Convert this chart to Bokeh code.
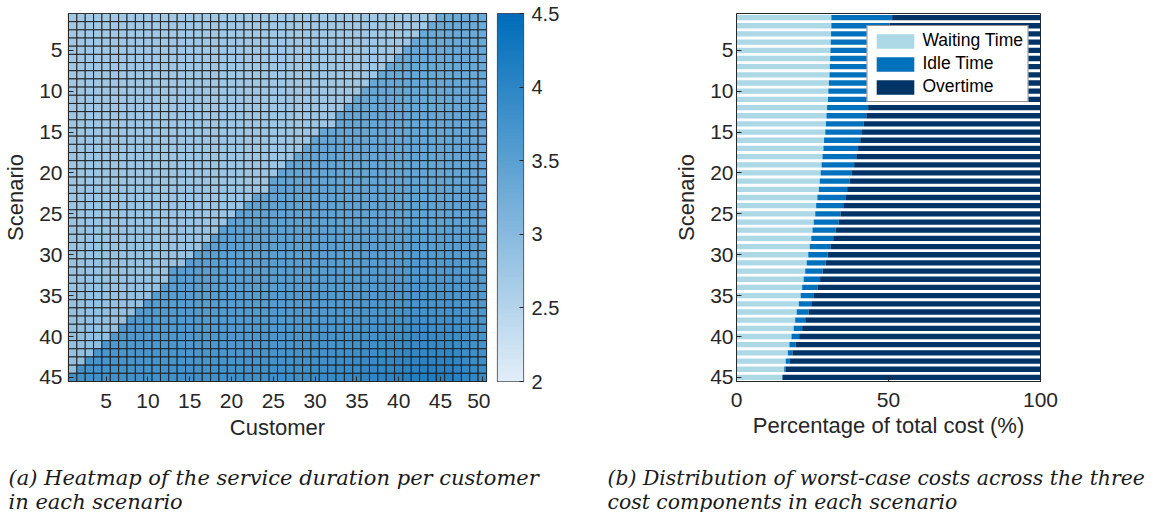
import numpy as np
from bokeh.plotting import figure
from bokeh.layouts import row, column
from bokeh.models import ColumnDataSource, FixedTicker, Range1d, Legend, LegendItem, LinearColorMapper
from bokeh.transform import linear_cmap
from bokeh.core.properties import value
from bokeh.embed import file_html
from bokeh.resources import INLINE

FONT = "Liberation Sans"
AX = "#262626"

# ---------------- data ----------------
customers = list(range(1, 51))
scenarios = list(range(1, 46))
heat_x_ticks = [5, 10, 15, 20, 25, 30, 35, 40, 45, 50]
scen_ticks = [5, 10, 15, 20, 25, 30, 35, 40, 45]
cbar_ticks = [2, 2.5, 3, 3.5, 4, 4.5]
pct_ticks = [0, 50, 100]

# heatmap: first customer column of the darker block in each scenario
dark_start = [45, 44, 43, 42, 41, 40, 39, 38, 37, 36, 35, 34, 33, 33, 31, 30, 29, 28, 27, 26,
              25, 25, 23, 22, 21, 20, 19, 18, 17, 16, 15, 13, 13, 12, 11, 10, 9, 8, 7, 6,
              5, 4, 3, 2, 1]
# service duration of the lighter block, per scenario
light_level = [2.72, 2.72, 2.72, 2.73, 2.73, 2.73, 2.74, 2.74, 2.74, 2.75, 2.75, 2.75, 2.76, 2.76, 2.76,
               2.77, 2.77, 2.77, 2.78, 2.78, 2.78, 2.79, 2.79, 2.79, 2.80, 2.80, 2.81, 2.81, 2.82, 2.82,
               2.83, 2.83, 2.84, 2.84, 2.85, 2.85, 2.86, 2.86, 2.87, 2.87, 2.88, 2.88, 2.89, 2.89, 2.90]
# service duration of the darker block, per scenario
dark_level = [3.30, 3.30, 3.31, 3.31, 3.32, 3.32, 3.33, 3.33, 3.34, 3.34, 3.35, 3.35, 3.36, 3.36, 3.37,
              3.37, 3.38, 3.38, 3.39, 3.39, 3.40, 3.41, 3.42, 3.43, 3.44, 3.45, 3.46, 3.47, 3.48, 3.49,
              3.50, 3.51, 3.52, 3.53, 3.54, 3.55, 3.57, 3.59, 3.61, 3.63, 3.65, 3.68, 3.71, 3.74, 3.78]
# extra duration of late customers in the darker block (bottom scenarios)
col_extra = [0.00] * 20 + [0.01, 0.01, 0.02, 0.02, 0.03, 0.04, 0.05, 0.06, 0.07, 0.08,
                          0.10, 0.11, 0.13, 0.15, 0.17, 0.19, 0.21, 0.23, 0.26, 0.28,
                          0.31, 0.33, 0.35, 0.37, 0.37, 0.34, 0.28, 0.22, 0.18, 0.15]
row_extra = [0.0] * 26 + [0.05, 0.10, 0.15, 0.20, 0.25, 0.30, 0.35, 0.40, 0.45, 0.50,
                          0.55, 0.60, 0.65, 0.70, 0.76, 0.82, 0.88, 0.94, 1.00]

# cost shares (%) per scenario
waiting = [31.2, 31.2, 31.1, 31.0, 30.9, 30.8, 30.7, 30.6, 30.4, 30.2, 30.1, 29.8, 29.6, 29.4, 29.2,
           28.8, 28.6, 28.3, 28.0, 27.7, 27.4, 27.1, 26.6, 26.2, 25.9, 25.4, 25.0, 24.6, 24.1, 23.6,
           23.1, 22.6, 22.1, 21.6, 21.1, 20.5, 19.8, 19.3, 18.8, 18.1, 17.4, 16.9, 16.2, 15.7, 15.1]
idle = [20.0, 19.2, 18.6, 18.0, 17.5, 16.9, 16.3, 15.7, 15.2, 14.7, 14.0, 13.5, 13.1, 12.5, 12.1,
        11.9, 11.4, 11.1, 10.7, 10.1, 9.8, 9.3, 9.2, 8.9, 8.3, 8.2, 7.6, 7.2, 6.8, 6.4,
        6.2, 5.7, 5.4, 5.0, 4.4, 4.1, 3.9, 3.3, 2.8, 2.5, 2.0, 1.5, 1.2, 0.4, 0.0]
overtime = [round(100 - w - i, 2) for w, i in zip(waiting, idle)]

caption_a = ["(a) Heatmap of the service duration per customer", "in each scenario"]
caption_b = ["(b) Distribution of worst-case costs across the three", "cost components in each scenario"]

# ---------------- colour map ----------------
lo = np.array([226, 238, 248], dtype=float)
hi = np.array([0, 108, 185], dtype=float)
palette = ["#%02x%02x%02x" % tuple(int(round(c)) for c in lo + (hi - lo) * t)
           for t in np.linspace(0, 1, 256)]

def style_axis(ax, size="21px"):
    ax.axis_line_color = AX
    ax.major_tick_line_color = AX
    ax.minor_tick_line_color = None
    ax.major_tick_out = 0
    ax.major_tick_in = 5
    ax.major_label_text_font = FONT
    ax.major_label_text_font_size = size
    ax.major_label_text_color = AX
    ax.axis_label_text_font = FONT
    ax.axis_label_text_font_size = "22px"
    ax.axis_label_text_font_style = "normal"
    ax.axis_label_text_color = AX

TOP_H = 455

# ---------------- heatmap ----------------
cx, cy, cv = [], [], []
for ri, r in enumerate(scenarios):
    for ci, c in enumerate(customers):
        cx.append(c)
        cy.append(r)
        if c < dark_start[ri]:
            cv.append(light_level[ri])
        else:
            cv.append(dark_level[ri] + col_extra[ci] * row_extra[ri])
hsrc = ColumnDataSource(dict(c=cx, r=cy, v=cv))

pA = figure(width=490, height=TOP_H, x_range=Range1d(0.5, 50.5), y_range=Range1d(45.5, 0.5),
            output_backend="svg", toolbar_location=None,
            min_border_left=67, min_border_right=4, min_border_top=12, min_border_bottom=70)
pA.rect(x="c", y="r", width=1, height=1, source=hsrc,
        fill_color=linear_cmap("v", palette, 2, 4.5), line_color="#1a1a1a", line_width=0.9)
pA.grid.visible = False
pA.outline_line_color = AX
pA.outline_line_width = 1.2
pA.xaxis.ticker = FixedTicker(ticks=heat_x_ticks)
pA.yaxis.ticker = FixedTicker(ticks=scen_ticks)
pA.xaxis.axis_label = "Customer"
pA.yaxis.axis_label = "Scenario"
style_axis(pA.xaxis[0])
style_axis(pA.yaxis[0])
pA.xaxis.major_label_standoff = 12
pA.yaxis.major_label_standoff = 6
pA.xaxis.axis_label_standoff = 4
pA.yaxis.axis_label_standoff = 8

# ---------------- colour bar ----------------
pC = figure(width=90, height=TOP_H, x_range=Range1d(0, 1), y_range=Range1d(2, 4.5),
            x_axis_location=None, y_axis_location="right",
            output_backend="svg", toolbar_location=None,
            min_border_left=7, min_border_right=57, min_border_top=12, min_border_bottom=70)
grad = np.linspace(2, 4.5, 256).reshape(256, 1)
pC.image(image=[grad], x=0, y=2, dw=1, dh=2.5,
         color_mapper=LinearColorMapper(palette=palette, low=2, high=4.5))
pC.grid.visible = False
pC.outline_line_color = "#4d4d4d"
pC.outline_line_width = 1.2
pC.yaxis.ticker = FixedTicker(ticks=cbar_ticks)
style_axis(pC.yaxis[0], size="20px")
pC.yaxis.axis_line_color = None
pC.yaxis.major_tick_in = 4
pC.yaxis.major_label_standoff = 8

# ---------------- stacked bars ----------------
w_end = [w for w in waiting]
i_end = [w + i for w, i in zip(waiting, idle)]
o_end = [w + i + o for w, i, o in zip(waiting, idle, overtime)]
bsrc = ColumnDataSource(dict(s=scenarios, w0=[0] * len(scenarios), w1=w_end, i1=i_end, o1=o_end))

pB = figure(width=576, height=TOP_H, x_range=Range1d(0, 100), y_range=Range1d(45.5, 0.5),
            output_backend="svg", toolbar_location=None,
            min_border_left=156, min_border_right=116, min_border_top=13, min_border_bottom=74)
bh = 0.65
rW = pB.hbar(y="s", height=bh, left="w0", right="w1", source=bsrc, fill_color="#add8e6", line_color=None)
rI = pB.hbar(y="s", height=bh, left="w1", right="i1", source=bsrc, fill_color="#0072bd", line_color=None)
rO = pB.hbar(y="s", height=bh, left="i1", right="o1", source=bsrc, fill_color="#003366", line_color=None)
pB.grid.visible = False
pB.outline_line_color = AX
pB.outline_line_width = 1
pB.xaxis.ticker = FixedTicker(ticks=pct_ticks)
pB.yaxis.ticker = FixedTicker(ticks=scen_ticks)
pB.xaxis.axis_label = "Percentage of total cost (%)"
pB.yaxis.axis_label = "Scenario"
style_axis(pB.xaxis[0])
style_axis(pB.yaxis[0])
pB.xaxis.major_label_standoff = 11
pB.yaxis.major_label_standoff = 3
pB.xaxis.axis_label_standoff = 3
pB.yaxis.axis_label_standoff = 8

legend = Legend(items=[LegendItem(label="Waiting Time", renderers=[rW]),
                       LegendItem(label="Idle Time", renderers=[rI]),
                       LegendItem(label="Overtime", renderers=[rO])],
                location="top_right", margin=12, padding=4, spacing=2,
                glyph_width=47, glyph_height=18, label_height=18, label_standoff=4,
                label_text_font=FONT, label_text_font_size="17.5px", label_text_color="#000000",
                border_line_color=AX, border_line_width=1,
                background_fill_color="white", background_fill_alpha=1)
pB.add_layout(legend)

# ---------------- captions ----------------
CAP_H = 512 - TOP_H
pT = figure(width=1156, height=CAP_H, x_range=Range1d(0, 1156), y_range=Range1d(CAP_H, 0),
            x_axis_location=None, y_axis_location=None, output_backend="svg",
            toolbar_location=None, min_border=0)
pT.grid.visible = False
pT.outline_line_color = None
pT.text(x=[8, 8], y=[22, 46], text=caption_a, text_font=value("DejaVu Serif"),
        text_font_style="italic", text_font_size="21px", text_baseline="alphabetic",
        text_color="#1a1a1a")
pT.text(x=[607, 607], y=[22, 46], text=caption_b, text_font=value("DejaVu Serif"),
        text_font_style="italic", text_font_size="20.4px", text_baseline="alphabetic",
        text_color="#1a1a1a")

layout = column(row(pA, pC, pB), pT)
open("out.html", "w").write(file_html(layout, INLINE))
